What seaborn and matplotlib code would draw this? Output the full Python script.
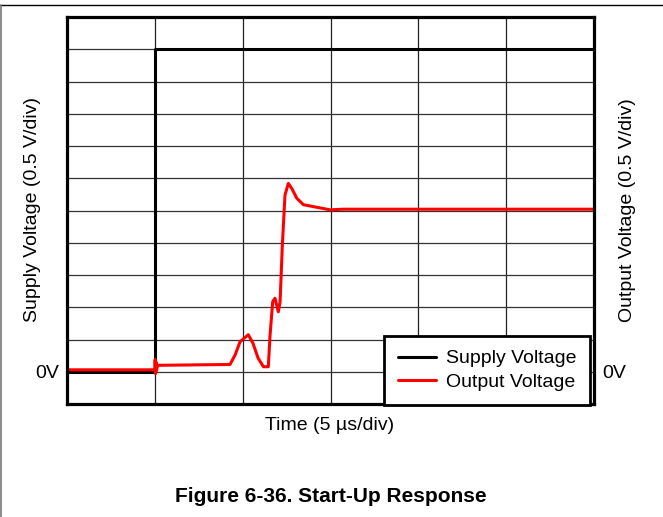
import numpy as np
import pandas as pd
import matplotlib
matplotlib.use("Agg")
import matplotlib.pyplot as plt
from matplotlib.lines import Line2D
import seaborn as sns

# Supply step (time in microseconds, volts)
supply_t = [0.0, 5.0, 5.0, 30.0]
supply_v = [0.0, 0.0, 5.0, 5.0]

# Output voltage trace during start-up
output_t = [0.0, 4.95, 5.0, 5.02, 5.04, 5.07, 5.1, 5.15, 5.3, 9.28, 9.57, 9.85,
            10.32, 10.59, 10.88, 11.18, 11.46, 11.56, 11.71, 11.84, 12.03, 12.13,
            12.26, 12.41, 12.6, 12.8, 13.08, 13.46, 14.22, 14.98, 15.73, 30.0]
output_v = [0.03, 0.03, 0.03, 0.19, -0.03, 0.15, 0.02, 0.1, 0.1, 0.113, 0.26, 0.465,
            0.574, 0.44, 0.21, 0.078, 0.078, 0.57, 1.085, 1.14, 0.93, 1.085,
            1.97, 2.74, 2.92, 2.84, 2.69, 2.59, 2.55, 2.51, 2.52, 2.52]

series_names = ["Supply Voltage", "Output Voltage"]
series_colors = ["#000000", "#ff0000"]

df = pd.concat([
    pd.DataFrame({"t": supply_t, "v": supply_v, "series": series_names[0]}),
    pd.DataFrame({"t": output_t, "v": output_v, "series": series_names[1]}),
], ignore_index=True)

sns.set_theme(style="white")
plt.rcParams["font.family"] = ["Liberation Sans", "DejaVu Sans"]
plt.rcParams["text.color"] = "black"
plt.rcParams["ytick.color"] = "black"
plt.rcParams["ytick.labelcolor"] = "black"

W, H = 663, 517
fig = plt.figure(figsize=(W / 100, H / 100), dpi=100)
ax = fig.add_axes([67 / W, 1 - 404 / H, 527 / W, 387 / H])

sns.lineplot(data=df, x="t", y="v", hue="series", hue_order=series_names,
             palette=series_colors, sort=False, estimator=None, units="series",
             linewidth=2.2, ax=ax, legend=False)

ax.set_xlim(0, 30)
ax.set_ylim(-0.5, 5.5)

# grid on every division
for x in np.arange(5, 30, 5):
    ax.axvline(x, color="#222222", lw=0.9, zorder=0)
for y in np.arange(0.0, 5.5, 0.5):
    ax.axhline(y, color="#333333", lw=0.9, zorder=0)

ax.set_xticks([])
ax.set_yticks([0])
ax.set_yticklabels(["0V"])
ax.tick_params(axis="y", length=0, pad=6, labelsize=14,
               labelleft=True, labelright=True)
for s in ax.spines.values():
    s.set_visible(True)
    s.set_color("black")
    s.set_linewidth(2.3)
ax.set_xlabel("")
ax.set_ylabel("")

fig.text(330 / W, 1 - 426 / H, "Time (5 \u00b5s/div)", ha="center", va="center",
         fontsize=14)
fig.text(33 / W, 1 - 210 / H, "Supply Voltage (0.5 V/div)", rotation=90,
         ha="center", va="center", fontsize=14)
fig.text(628 / W, 1 - 210 / H, "Output Voltage (0.5 V/div)", rotation=90,
         ha="center", va="center", fontsize=14)

handles = [Line2D([0], [0], color=c, lw=2.2) for c in series_colors]
leg = ax.legend(handles, series_names, loc="lower right",
                bbox_to_anchor=(0.993, -0.002), fontsize=14, frameon=True,
                fancybox=False, framealpha=1, edgecolor="black",
                borderpad=0.7, labelspacing=0.32, handlelength=2.0,
                handletextpad=0.5, borderaxespad=0)
leg.get_frame().set_linewidth(2.0)

fig.text(331 / W, 1 - 497 / H, "Figure 6-36. Start-Up Response",
         ha="center", va="center", fontsize=15, fontweight="bold")

# page frame lines
fig.add_artist(Line2D([0, 1], [1 - 4.5 / H] * 2, color="black", lw=1.0,
                      transform=fig.transFigure))
fig.add_artist(Line2D([0.5 / W] * 2, [0, 1 - 4.5 / H], color="#777777",
                      lw=1.2, transform=fig.transFigure))

fig.savefig("out.png", dpi=100)
